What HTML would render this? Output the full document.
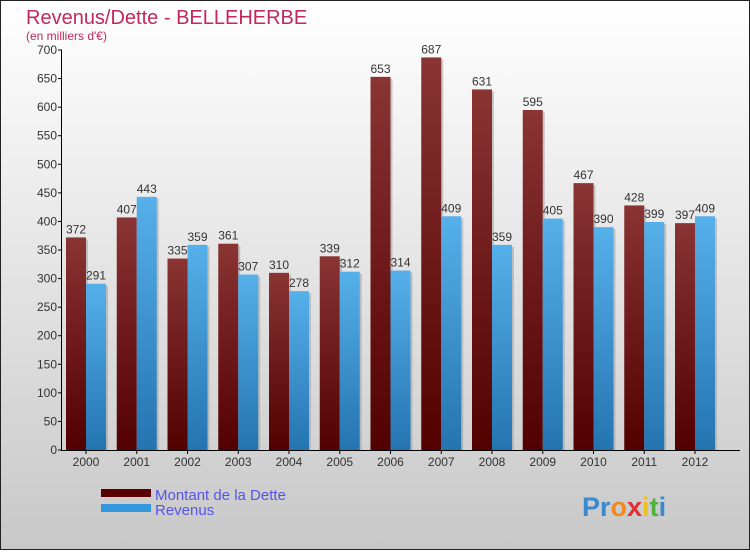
<!DOCTYPE html>
<html><head><meta charset="utf-8"><style>
html,body{margin:0;padding:0}
body{width:750px;height:550px;overflow:hidden;font-family:"Liberation Sans",sans-serif}
</style></head><body>
<svg id="chart" width="750" height="550" xmlns="http://www.w3.org/2000/svg">
<defs>
<linearGradient id="bg" x1="0" y1="0" x2="0" y2="1"><stop offset="0" stop-color="#ffffff"/><stop offset="1" stop-color="#c8c8c8"/></linearGradient>
<linearGradient id="gd" x1="0" y1="0" x2="0" y2="1"><stop offset="0" stop-color="#8a3434"/><stop offset="1" stop-color="#520000"/></linearGradient>
<linearGradient id="gb" x1="0" y1="0" x2="0" y2="1"><stop offset="0" stop-color="#56b0ea"/><stop offset="1" stop-color="#2474b0"/></linearGradient>
</defs>
<rect x="0.5" y="0.5" width="749" height="549" fill="url(#bg)" stroke="#222" stroke-width="1"/>
<text x="26" y="24" font-size="20" fill="#c0285e">Revenus/Dette - BELLEHERBE</text>
<text x="26" y="40" font-size="12" fill="#c0285e">(en milliers d'€)</text>
<g id="plot"></g>
<g>
<rect x="101" y="489" width="50" height="8" fill="#5a0000"/>
<text x="155" y="500" font-size="15" fill="#5555ee">Montant de la Dette</text>
<rect x="101" y="504" width="50" height="8" fill="#3398dd"/>
<text x="155" y="515" font-size="15" fill="#5555ee">Revenus</text>
</g>
<text x="582" y="516" font-size="27" font-weight="bold" fill="#3a8ad0">Pr<tspan fill="#f08a20">o</tspan><tspan fill="#e03030">x</tspan><tspan fill="#f0c020">i</tspan><tspan fill="#50b040">t</tspan><tspan fill="#3a8ad0">i</tspan></text>
</svg>
<script>
const years=["2000","2001","2002","2003","2004","2005","2006","2007","2008","2009","2010","2011","2012"];
const dette=[372,407,335,361,310,339,653,687,631,595,467,428,397];
const revenus=[291,443,359,307,278,312,314,409,359,405,390,399,409];
const yTicks=[0,50,100,150,200,250,300,350,400,450,500,550,600,650,700];
const NS="http://www.w3.org/2000/svg";
const g=document.getElementById('plot');
const y=v=>450-v*400/700;
const xc=i=>86+i*50.75;
function mk(t,a){const e=document.createElementNS(NS,t);for(const k in a)e.setAttribute(k,a[k]);g.appendChild(e);return e;}
years.forEach((yr,i)=>{
  const c=xc(i);
  let s=mk('rect',{x:c-20+2,y:y(dette[i])+2,width:20,height:450-y(dette[i])-2,fill:'#999',opacity:0.5});
  
  
  let b=mk('rect',{x:c-20,y:y(dette[i]),width:20,height:450-y(dette[i]),fill:'url(#gd)'});
  
  
  let s2=mk('rect',{x:c+2,y:y(revenus[i])+2,width:20,height:450-y(revenus[i])-2,fill:'#999',opacity:0.5});
  
  
  let b2=mk('rect',{x:c,y:y(revenus[i]),width:20,height:450-y(revenus[i]),fill:'url(#gb)'});
  
  
  let t=mk('text',{x:c-10,y:y(dette[i])-4,'font-size':12,fill:'#333','text-anchor':'middle'});t.textContent=dette[i];
  
  
  let t2=mk('text',{x:c+10,y:y(revenus[i])-4,'font-size':12,fill:'#333','text-anchor':'middle'});t2.textContent=revenus[i];
  
  
  let xl=mk('text',{x:c,y:466,'font-size':12,fill:'#333','text-anchor':'middle'});xl.textContent=yr;
  
  
  let xt=mk('line',{x1:c,x2:c,y1:450,y2:454,stroke:'#000'});
  
  
});
yTicks.forEach(v=>{
  let l=mk('line',{x1:58,x2:62,y1:y(v),y2:y(v),stroke:'#000'});
  
  
  let t=mk('text',{x:57,y:y(v)+4,'font-size':12,fill:'#333','text-anchor':'end'});t.textContent=v;
  
  
});
let ya=mk('line',{x1:61.5,x2:61.5,y1:50,y2:450,stroke:'#000'});


let xa=mk('line',{x1:61,x2:740,y1:450.5,y2:450.5,stroke:'#000'});


</script>
</body></html>
